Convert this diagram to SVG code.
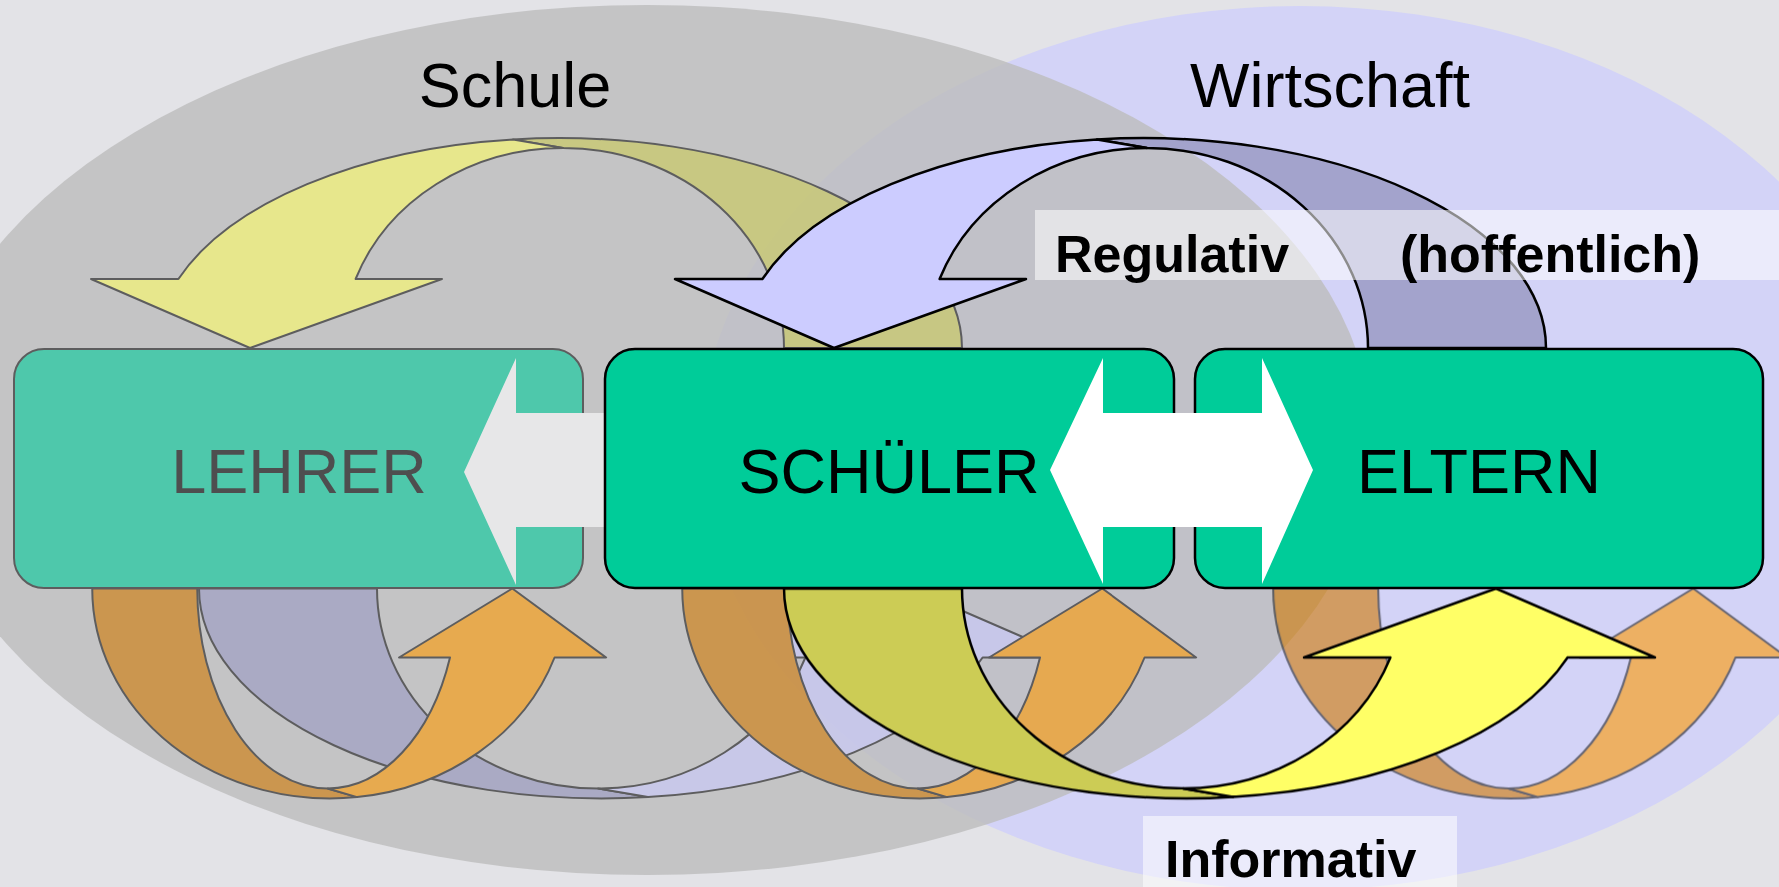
<svg xmlns="http://www.w3.org/2000/svg" xmlns:xlink="http://www.w3.org/1999/xlink" width="1779" height="887" viewBox="0 0 1779 887">
  <defs>
    <style>
      .title { font-family: "Liberation Sans", Arial, sans-serif; font-size: 63px; fill: #000; }
      .node-label { font-family: "Liberation Sans", Arial, sans-serif; font-size: 63px; fill: #000; text-anchor: middle; }
      .tag { font-family: "Liberation Sans", Arial, sans-serif; font-size: 52px; font-weight: bold; fill: #000; }
      .box { fill: #00cc99; stroke: #000; stroke-width: 2.5; }
      .line { stroke: #000; stroke-width: 2.5; stroke-linejoin: round; }
      .faint-line { stroke: #1a1a1a; stroke-width: 2; stroke-linejoin: round; }
      .tag-bg { fill: #ffffff; opacity: 0.55; }
    </style>
    <!-- Curved ribbon arrow, local frame: origin at the middle of the box edge it springs from.
         Front face carries the head, back face runs to the other end. -->
    <path id="ribbon-front" vector-effect="non-scaling-stroke"
          d="M -380.6,-69 A 403,210 0 0 1 -46,-208.6 L 4,-200 A 221,200 0 0 0 -203.4,-69 L -117,-69 L -309,0 L -468,-69 Z"/>
    <path id="ribbon-back" vector-effect="non-scaling-stroke"
          d="M -46,-208.6 A 403,210 0 0 1 403,0 L 225,0 A 221,200 0 0 0 4,-200 Z"/>
  </defs>

  <!-- backdrop -->
  <rect x="0" y="0" width="1779" height="887" fill="#e3e3e7"/>

  <!-- Wirtschaft area -->
  <g id="wirtschaft">
    <ellipse cx="1300" cy="448" rx="600" ry="442" fill="#d3d3f7"/>
    <text class="title" x="1330" y="107" text-anchor="middle">Wirtschaft</text>
  </g>

  <!-- Schule area -->
  <g id="schule">
    <ellipse cx="647" cy="440" rx="725" ry="435" fill="#bdbdbd" opacity="0.82"/>
    <text class="title" x="515" y="107" text-anchor="middle">Schule</text>
  </g>

  <!-- muted layer: teacher node and its loops -->
  <g id="muted-layer" opacity="0.6">
    <g id="connectors-muted">
      <!-- upper loop onto LEHRER -->
      <g transform="translate(559,348)">
        <use xlink:href="#ribbon-back" fill="#cccc55" class="faint-line"/>
        <use xlink:href="#ribbon-front" fill="#ffff66" class="faint-line"/>
      </g>
      <!-- lower loop LEHRER to SCHÜLER -->
      <g transform="translate(602,588.5) rotate(180)">
        <use xlink:href="#ribbon-back" fill="#9999c4" class="faint-line"/>
        <use xlink:href="#ribbon-front" fill="#ccccff" class="faint-line"/>
      </g>
      <!-- self loops under each node -->
      <g transform="translate(330,588.5) scale(-0.59,-1)">
        <use xlink:href="#ribbon-back" fill="#d07800" class="faint-line"/>
        <use xlink:href="#ribbon-front" fill="#ff9900" class="faint-line"/>
      </g>
      <g transform="translate(920,588.5) scale(-0.59,-1)">
        <use xlink:href="#ribbon-back" fill="#d07800" class="faint-line"/>
        <use xlink:href="#ribbon-front" fill="#ff9900" class="faint-line"/>
      </g>
      <g transform="translate(1511,588.5) scale(-0.59,-1)">
        <use xlink:href="#ribbon-back" fill="#d07800" class="faint-line"/>
        <use xlink:href="#ribbon-front" fill="#ff9900" class="faint-line"/>
      </g>
    </g>
    <g id="lehrer">
      <rect x="14" y="349" width="569" height="239" rx="30" ry="30" fill="#00cc99" class="faint-line"/>
      <polygon points="464,472 516,358 516,413 640,413 640,527 516,527 516,585" fill="#ffffff"/>
      <text class="node-label" x="299" y="493" fill="#000">LEHRER</text>
    </g>
  </g>

  <!-- loops between pupils and parents -->
  <g id="connectors">
    <!-- Regulativ: from ELTERN over the top onto SCHÜLER -->
    <g transform="translate(1143,348)">
      <use xlink:href="#ribbon-back" fill="#a3a3cc" class="line"/>
      <use xlink:href="#ribbon-front" fill="#ccccff" class="line"/>
    </g>
    <!-- Informativ: from SCHÜLER underneath up to ELTERN -->
    <g transform="translate(1187,588.5) rotate(180)">
      <use xlink:href="#ribbon-back" fill="#cccc55" class="line"/>
      <use xlink:href="#ribbon-front" fill="#ffff66" class="line"/>
    </g>
  </g>

  <g id="schueler">
    <rect class="box" x="605" y="349" width="569" height="239" rx="30" ry="30"/>
    <text class="node-label" x="889" y="493">SCHÜLER</text>
  </g>

  <g id="eltern">
    <rect class="box" x="1195" y="349" width="568" height="239" rx="30" ry="30"/>
    <text class="node-label" x="1479" y="493">ELTERN</text>
  </g>

  <!-- two-way exchange between SCHÜLER and ELTERN -->
  <g id="connectors-exchange">
    <polygon fill="#ffffff"
             points="1050,470 1103,358 1103,413 1262,413 1262,358 1313,470 1262,584 1262,527 1103,527 1103,584"/>
  </g>

  <!-- tags -->
  <g id="tag-regulativ">
    <rect class="tag-bg" x="1035" y="210" width="344" height="70"/>
    <text class="tag" x="1055" y="272">Regulativ</text>
  </g>
  <g id="tag-hoffentlich">
    <rect class="tag-bg" x="1379" y="210" width="400" height="70"/>
    <text class="tag" x="1400" y="272">(hoffentlich)</text>
  </g>
  <g id="tag-informativ">
    <rect class="tag-bg" x="1143" y="816" width="314" height="71"/>
    <text class="tag" x="1165" y="877">Informativ</text>
  </g>
</svg>
